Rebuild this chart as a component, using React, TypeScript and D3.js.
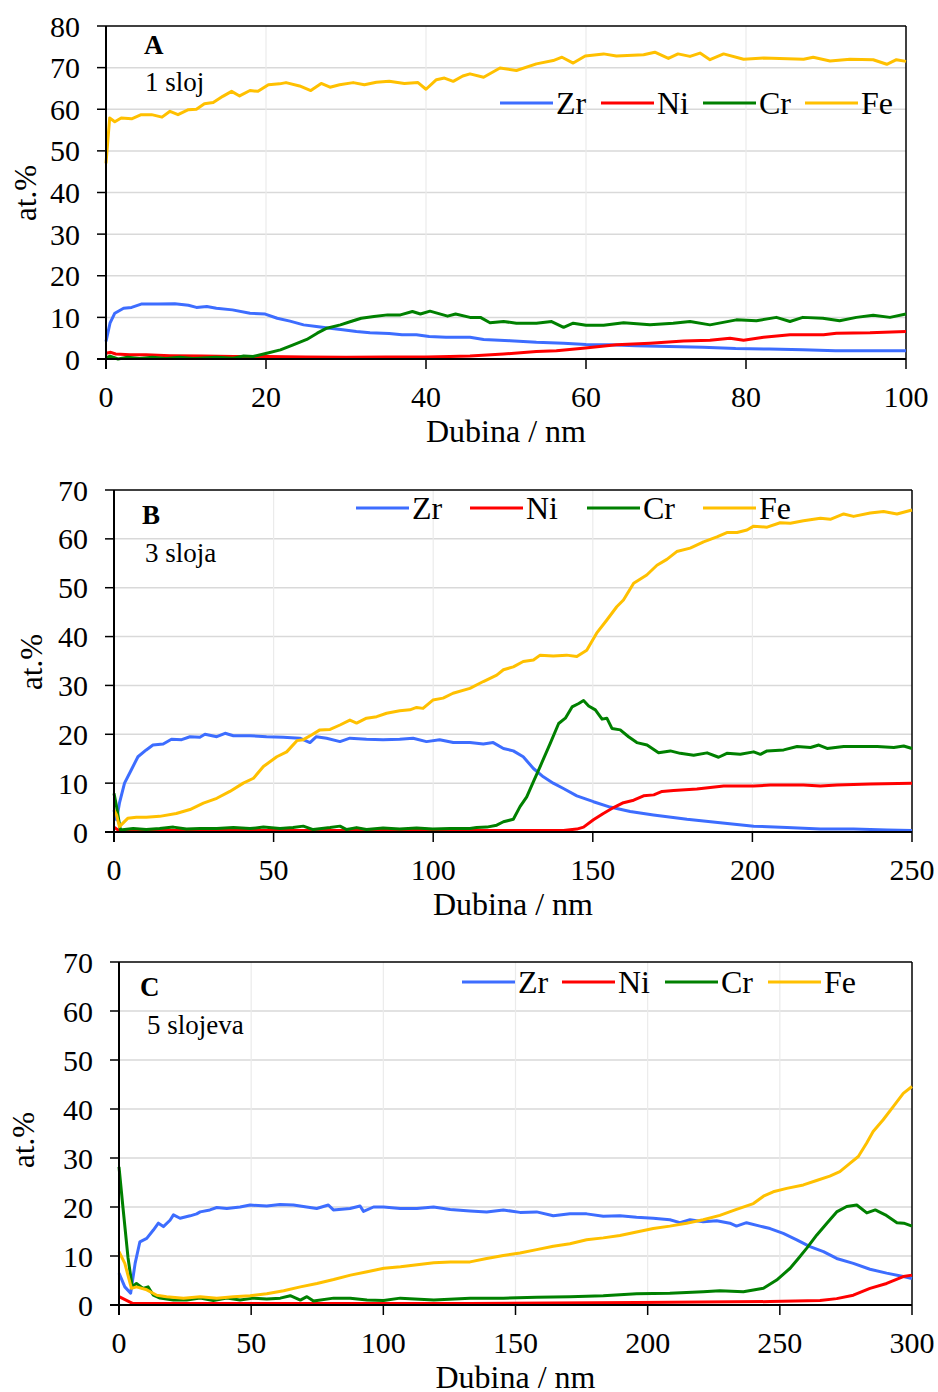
import React from "react";
import * as d3 from "d3";

type Pt = [number, number];

// ---------- Panel A (1 sloj) ----------
const A_Zr: Pt[] = [[0,4.2],[0.5,8.6],[1.1,11.0],[2.2,12.2],[3.2,12.4],[4.4,13.2],[6.5,13.2],[8.6,13.3],[10.3,12.9],[11.3,12.4],[12.6,12.6],[13.8,12.2],[15.8,11.8],[18.0,11.0],[19.9,10.8],[21.4,9.8],[23.0,9.1],[24.7,8.2],[26.3,7.8],[28.0,7.4],[29.6,7.0],[31.3,6.6],[33.0,6.3],[35.4,6.1],[37.0,5.8],[38.8,5.8],[40.4,5.4],[42.5,5.2],[45.5,5.2],[47.2,4.7],[50.5,4.4],[53.8,4.0],[57.2,3.8],[60.0,3.5],[62.9,3.4],[66.2,3.2],[70.4,3.0],[74.6,2.8],[78.7,2.5],[82.9,2.4],[87.1,2.2],[91.2,2.0],[95.4,2.0],[100,2.0]];
const A_Ni: Pt[] = [[0,1.4],[0.6,1.6],[1.2,1.2],[3,1.0],[5,1.0],[8,0.8],[12,0.7],[16,0.6],[20,0.6],[25,0.5],[30,0.4],[35,0.5],[40,0.5],[43,0.6],[45.5,0.7],[49.7,1.2],[53.8,1.8],[56.3,2.0],[59.6,2.6],[63.8,3.4],[68.0,3.8],[72.2,4.3],[75.5,4.5],[78.0,5.0],[79.7,4.5],[82.2,5.2],[85.5,5.8],[89.7,5.8],[91.3,6.2],[95.5,6.3],[100,6.6]];
const A_Cr: Pt[] = [[0,0.2],[0.5,0.7],[1.5,0.0],[2.7,0.4],[4.2,0.1],[5.8,0.4],[7.5,0.1],[9.2,0.4],[10.9,0.1],[13.8,0.4],[15.9,0.2],[17.2,0.7],[18.4,0.6],[20.1,1.4],[21.8,2.2],[23.4,3.4],[25.1,4.7],[26.4,6.2],[27.6,7.4],[29.3,8.2],[30.6,9.0],[31.9,9.8],[33.5,10.2],[35.2,10.6],[36.8,10.6],[38.3,11.4],[39.3,10.8],[40.5,11.5],[42.7,10.3],[43.7,10.8],[45.5,10.0],[46.8,10.0],[48.0,8.7],[49.7,9.0],[51.3,8.6],[53.8,8.6],[55.7,9.0],[57.2,7.6],[58.4,8.6],[60.0,8.1],[62.2,8.1],[64.7,8.7],[68.0,8.2],[70.9,8.6],[73.0,9.0],[75.5,8.2],[78.8,9.4],[81.3,9.2],[83.8,10.0],[85.5,9.0],[87.1,10.0],[89.6,9.8],[91.7,9.2],[93.8,10.0],[95.9,10.5],[98.0,10.0],[100,10.8]];
const A_Fe: Pt[] = [[0,47.0],[0.46,57.9],[1.1,57.0],[1.9,57.9],[3.2,57.7],[4.4,58.7],[5.7,58.7],[7.0,58.1],[8.0,59.5],[9.0,58.7],[10.3,59.9],[11.3,60.0],[12.3,61.3],[13.4,61.6],[14.6,63.1],[15.7,64.3],[16.7,63.2],[18.0,64.5],[19.0,64.3],[20.3,65.9],[21.7,66.1],[22.5,66.4],[24.2,65.6],[25.6,64.5],[26.9,66.2],[28.0,65.3],[29.2,65.9],[30.9,66.4],[32.3,65.9],[33.8,66.5],[35.4,66.7],[37.3,66.2],[39.0,66.4],[40.0,64.8],[41.3,67.1],[42.3,67.5],[43.4,66.7],[44.6,68.0],[45.5,68.5],[47.2,67.7],[49.25,69.9],[51.3,69.3],[53.8,70.9],[55.9,71.7],[57.0,72.5],[58.4,71.1],[59.9,72.8],[62.2,73.3],[63.8,72.8],[67.2,73.1],[68.6,73.7],[70.3,72.2],[71.5,73.3],[73.0,72.7],[74.25,73.5],[75.5,71.9],[77.2,73.3],[79.7,72.0],[82.2,72.3],[87.2,72.0],[88.4,72.5],[90.5,71.6],[93.0,72.0],[95.9,71.9],[97.6,70.8],[98.8,71.9],[100,71.5]];

// ---------- Panel B (3 sloja) ----------
const B_Zr: Pt[] = [[0,4.5],[0.8,2.5],[1.7,5.9],[3.3,10.0],[5.4,12.7],[7.5,15.4],[10.1,16.8],[12.2,17.8],[15.4,18.0],[18.0,19.0],[21.2,18.9],[23.8,19.5],[26.9,19.4],[28.5,20.0],[32.2,19.5],[34.8,20.2],[37.4,19.7],[42.6,19.7],[47.8,19.5],[53.0,19.4],[58.2,19.2],[61.4,18.3],[63.4,19.5],[66.6,19.2],[70.8,18.5],[73.9,19.2],[79.1,19.0],[84.3,18.9],[89.5,19.0],[93.7,19.2],[97.9,18.5],[102,18.9],[106.3,18.3],[111.5,18.3],[115.7,18.0],[118.8,18.3],[122.0,17.1],[125.1,16.6],[128.2,15.4],[131.4,13.0],[134.5,11.3],[137.6,10.0],[140.8,8.9],[145.0,7.4],[150.2,6.2],[155.4,5.1],[161.7,4.2],[169.0,3.5],[179.5,2.6],[189.9,1.9],[200.4,1.2],[210.8,0.9],[221.3,0.6],[231.7,0.6],[242.2,0.4],[250,0.3]];
const B_Ni: Pt[] = [[0,1.0],[1.5,0.3],[10,0.3],[30,0.3],[60,0.3],[90,0.3],[120,0.3],[140.8,0.3],[145.0,0.6],[147.1,1.0],[150.2,2.5],[153.3,3.8],[156.5,5.0],[159.6,6.0],[162.8,6.5],[165.9,7.4],[169.1,7.6],[171.7,8.3],[175.3,8.5],[182.6,8.8],[186.8,9.1],[191.0,9.4],[200.4,9.4],[205.6,9.6],[216.0,9.6],[221.3,9.4],[226.5,9.6],[236.9,9.8],[250,10.0]];
const B_Cr: Pt[] = [[0,7.9],[0.8,5.2],[2.0,0.4],[6.0,0.7],[10.1,0.5],[14.3,0.7],[18.6,1.0],[22.7,0.6],[26.9,0.7],[32.2,0.7],[37.4,0.9],[42.6,0.7],[46.8,1.0],[52.0,0.7],[56.1,0.9],[59.3,1.2],[62.4,0.5],[67.7,0.9],[70.8,1.2],[72.9,0.5],[76.0,0.9],[79.1,0.5],[84.3,0.8],[89.5,0.6],[94.8,0.8],[99.9,0.6],[105.2,0.7],[111.5,0.7],[113.6,0.9],[116.8,1.0],[119.9,1.4],[122.0,2.1],[125.1,2.6],[127.2,5.2],[129.3,7.2],[131.4,10.3],[133.5,13.4],[136.7,18.2],[139.3,22.2],[141.4,23.3],[143.5,25.6],[145.6,26.3],[147.1,26.9],[148.7,25.8],[150.8,25.0],[152.9,23.1],[154.4,23.3],[156.0,21.2],[158.6,20.9],[161.2,19.5],[163.8,18.3],[167.0,17.8],[170.6,16.2],[174.3,16.6],[177.4,16.1],[181.6,15.7],[185.8,16.2],[189.4,15.3],[192.0,16.1],[196.2,15.9],[200.4,16.4],[202.5,15.9],[204.6,16.6],[209.8,16.8],[214.0,17.5],[218.2,17.3],[220.8,17.8],[223.4,17.1],[228.6,17.5],[234.9,17.5],[239.1,17.5],[244.3,17.3],[247.4,17.6],[250,17.1]];
const B_Fe: Pt[] = [[0,4.5],[0.8,3.5],[1.7,1.1],[4.3,2.8],[7.0,3.0],[10.1,3.0],[14.3,3.2],[19.5,3.8],[23.8,4.6],[28.0,5.9],[32.2,6.9],[36.3,8.3],[40.5,10.0],[43.7,11.0],[46.8,13.4],[51.0,15.4],[54.1,16.4],[57.3,18.7],[59.3,18.9],[62.0,19.9],[64.5,20.9],[67.7,21.0],[70.8,21.9],[73.9,22.9],[76.0,22.3],[79.1,23.3],[82.3,23.6],[85.4,24.3],[89.5,24.8],[92.7,25.0],[94.8,25.5],[96.8,25.3],[99.9,27.0],[103.1,27.4],[106.2,28.4],[111.5,29.4],[115.7,30.8],[119.9,32.1],[122.0,33.2],[125.1,33.8],[128.2,34.9],[131.4,35.2],[133.5,36.2],[137.6,36.0],[141.8,36.2],[145.0,35.9],[148.1,37.2],[151.2,40.7],[154.4,43.4],[157.5,46.1],[159.6,47.5],[162.8,50.9],[166.9,52.6],[170.1,54.6],[173.2,55.8],[176.3,57.4],[180.5,58.1],[184.7,59.4],[188.9,60.4],[192.0,61.3],[195.2,61.3],[198.3,61.8],[200.4,62.6],[204.6,62.4],[208.7,63.3],[211.9,63.2],[216.0,63.7],[221.3,64.2],[224.4,64.0],[228.6,65.1],[231.7,64.6],[236.9,65.3],[241.1,65.6],[245.3,65.1],[250,65.9]];

// ---------- Panel C (5 slojeva) ----------
const C_Zr: Pt[] = [[0,6.5],[2.2,3.7],[4.4,2.4],[6.1,8.5],[7.9,12.9],[10.5,13.6],[13.0,15.3],[14.9,16.7],[16.8,16.0],[19.3,17.3],[20.6,18.4],[23.1,17.7],[26.9,18.2],[29.4,18.6],[30.7,19.0],[34.4,19.4],[37.0,19.9],[40.8,19.7],[45.8,20.0],[49.6,20.4],[55.9,20.2],[60.9,20.5],[66.0,20.4],[71.0,20.0],[74.8,19.7],[79.2,20.4],[81.1,19.4],[87.4,19.7],[91.2,20.2],[92.5,19.1],[96.3,20.0],[100.1,20.0],[106.4,19.7],[112.7,19.7],[119.0,20.0],[125.3,19.5],[132.8,19.2],[139.1,19.0],[145.4,19.4],[151.7,18.9],[158.0,19.0],[164.3,18.2],[170.6,18.6],[176.9,18.6],[183.2,18.1],[189.5,18.2],[195.8,17.9],[202.1,17.7],[208.4,17.4],[212.2,16.8],[216.0,17.4],[221.0,17.0],[226.1,17.2],[231.1,16.7],[233.6,16.1],[237.4,16.8],[242.5,16.1],[246.3,15.6],[251.3,14.6],[256.4,13.3],[261.4,11.9],[266.5,10.9],[271.5,9.5],[277.8,8.5],[284.1,7.3],[290.4,6.5],[296.7,5.8],[300,5.4]];
const C_Ni: Pt[] = [[0,1.7],[5.3,0.3],[30,0.3],[80,0.3],[132.8,0.3],[195.8,0.5],[246.3,0.7],[265.2,0.9],[271.5,1.3],[277.8,2.0],[284.1,3.4],[290.4,4.4],[296.7,5.8],[300,6.1]];
const C_Cr: Pt[] = [[0,28.2],[1.5,19.9],[3.4,9.7],[5.0,3.7],[6.6,4.4],[9.1,3.4],[11.0,3.7],[13.0,2.0],[15.5,1.4],[20.6,1.0],[25.6,1.0],[30.7,1.4],[35.7,0.9],[40.8,1.4],[45.8,1.0],[50.9,1.4],[55.9,1.2],[61.0,1.4],[64.8,1.9],[68.6,1.0],[71.1,1.7],[73.6,0.8],[81.2,1.4],[87.5,1.4],[93.8,1.0],[100.1,0.9],[106.4,1.4],[119.1,1.0],[132.8,1.4],[145.4,1.4],[158.0,1.6],[170.6,1.7],[183.2,1.9],[195.8,2.3],[208.4,2.4],[221.0,2.7],[227.3,2.9],[236.2,2.7],[243.8,3.4],[248.8,5.1],[253.9,7.5],[257.0,9.5],[260.2,11.6],[264.0,14.3],[267.8,16.7],[271.5,19.0],[275.3,20.1],[279.1,20.4],[282.9,18.8],[286.1,19.4],[289.9,18.4],[294.3,16.8],[296.9,16.7],[300,16.1]];
const C_Fe: Pt[] = [[0,10.9],[2.2,8.5],[4.7,3.4],[6.6,3.7],[10.5,3.1],[14.3,2.0],[18.0,1.7],[24.4,1.4],[30.7,1.7],[37.0,1.4],[43.3,1.7],[49.6,1.9],[55.9,2.3],[62.3,2.9],[68.6,3.7],[74.9,4.4],[81.2,5.2],[87.6,6.1],[93.9,6.8],[100.2,7.5],[106.5,7.8],[112.8,8.2],[119.1,8.6],[125.4,8.8],[132.8,8.8],[139.1,9.5],[145.4,10.1],[151.7,10.6],[158.0,11.3],[164.3,12.0],[170.6,12.5],[176.9,13.3],[183.2,13.7],[189.5,14.2],[195.8,14.9],[202.1,15.6],[208.4,16.1],[214.7,16.7],[221.0,17.4],[227.3,18.3],[233.6,19.5],[240.0,20.7],[243.8,22.2],[247.5,23.1],[252.6,23.8],[258.9,24.5],[263.9,25.4],[268.9,26.3],[272.7,27.2],[276.5,28.9],[279.7,30.3],[282.8,33.0],[285.3,35.4],[289.1,37.8],[292.9,40.5],[296.7,43.2],[300,44.6]];

const seriesNames = ["Zr", "Ni", "Cr", "Fe"];
const seriesColors = ["#3d6dff", "#ff0000", "#008000", "#ffc000"];

const A_xTicks = [0, 20, 40, 60, 80, 100];
const A_yTicks = [0, 10, 20, 30, 40, 50, 60, 70, 80];
const B_xTicks = [0, 50, 100, 150, 200, 250];
const B_yTicks = [0, 10, 20, 30, 40, 50, 60, 70];
const C_xTicks = [0, 50, 100, 150, 200, 250, 300];
const C_yTicks = [0, 10, 20, 30, 40, 50, 60, 70];

const FONT = "'Liberation Serif', 'Times New Roman', serif";

interface PanelProps {
  left: number; right: number; top: number; bottom: number;
  xMax: number; yMax: number;
  xTicks: number[]; yTicks: number[];
  data: Pt[][];
  letter: string; sub: string;
  letterPos: [number, number]; subPos: [number, number];
  legendY: number; legendX: number[];
  yTitleX: number; yTitleY: number;
}

function Panel(p: PanelProps) {
  const x = d3.scaleLinear().domain([0, p.xMax]).range([p.left, p.right]);
  const y = d3.scaleLinear().domain([0, p.yMax]).range([p.bottom, p.top]);
  const line = d3.line<Pt>().x(d => x(d[0])).y(d => y(d[1])).curve(d3.curveLinear);
  const fs = 30;
  return (
    <g>
      {p.yTicks.filter(t => t > 0 && t < p.yMax).map(t => (
        <line key={"hg" + t} x1={p.left} x2={p.right} y1={y(t)} y2={y(t)} stroke="#d9d9d9" strokeWidth={1.5} />
      ))}
      {p.xTicks.filter(t => t > 0 && t < p.xMax).map(t => (
        <line key={"vg" + t} x1={x(t)} x2={x(t)} y1={p.top} y2={p.bottom} stroke="#ebebeb" strokeWidth={1.2} />
      ))}
      <line x1={p.left} x2={p.right} y1={p.top} y2={p.top} stroke="#000" strokeWidth={1.5} />
      <line x1={p.right} x2={p.right} y1={p.top} y2={p.bottom} stroke="#000" strokeWidth={1.5} />
      {p.data.map((d, i) => (
        <path key={"s" + i} d={line(d) || ""} fill="none" stroke={seriesColors[i]} strokeWidth={3} strokeLinejoin="round" />
      ))}
      <line x1={p.left} x2={p.left} y1={p.top} y2={p.bottom + 10} stroke="#000" strokeWidth={2} />
      <line x1={p.left - 9} x2={p.right} y1={p.bottom} y2={p.bottom} stroke="#000" strokeWidth={2} />
      {p.yTicks.map(t => (
        <g key={"yt" + t}>
          <line x1={p.left - 9} x2={p.left} y1={y(t)} y2={y(t)} stroke="#000" strokeWidth={1.5} />
          <text x={p.left - 26} y={y(t)} dy="0.35em" textAnchor="end" fontFamily={FONT} fontSize={fs} fill="#000">{t}</text>
        </g>
      ))}
      {p.xTicks.map(t => (
        <g key={"xt" + t}>
          <line x1={x(t)} x2={x(t)} y1={p.bottom} y2={p.bottom + 10} stroke="#000" strokeWidth={1.5} />
          <text x={x(t)} y={p.bottom + 37} dy="0.35em" textAnchor="middle" fontFamily={FONT} fontSize={fs} fill="#000">{t}</text>
        </g>
      ))}
      <text x={(p.left + p.right) / 2} y={p.bottom + 83} textAnchor="middle" fontFamily={FONT} fontSize={32} fill="#000">Dubina / nm</text>
      <text transform={`translate(${p.yTitleX},${p.yTitleY}) rotate(-90)`} dy="0.35em" textAnchor="middle" fontFamily={FONT} fontSize={31} fill="#000">at.%</text>
      <text x={p.letterPos[0]} y={p.letterPos[1]} dy="0.35em" fontFamily={FONT} fontSize={27} fontWeight="bold" fill="#000">{p.letter}</text>
      <text x={p.subPos[0]} y={p.subPos[1]} dy="0.35em" fontFamily={FONT} fontSize={27} fill="#000">{p.sub}</text>
      {seriesNames.map((n, i) => (
        <g key={"lg" + n}>
          <line x1={p.legendX[i]} x2={p.legendX[i] + 53} y1={p.legendY} y2={p.legendY} stroke={seriesColors[i]} strokeWidth={3} />
          <text x={p.legendX[i] + 56} y={p.legendY} dy="0.35em" fontFamily={FONT} fontSize={32} fill="#000">{n}</text>
        </g>
      ))}
    </g>
  );
}

export default function App() {
  return (
    <svg width={938} height={1392} style={{ display: "block", position: "fixed", left: 0, top: 0 }} viewBox="0 0 938 1392">
      <rect width={938} height={1392} fill="#fff" />
      <Panel left={106} right={906} top={26} bottom={359} xMax={100} yMax={80}
        xTicks={A_xTicks} yTicks={A_yTicks} data={[A_Zr, A_Ni, A_Cr, A_Fe]}
        letter="A" sub="1 sloj" letterPos={[144, 45]} subPos={[145, 82]}
        legendY={103} legendX={[500, 601, 703, 805]} yTitleX={25} yTitleY={193} />
      <Panel left={114} right={912} top={490} bottom={832} xMax={250} yMax={70}
        xTicks={B_xTicks} yTicks={B_yTicks} data={[B_Zr, B_Ni, B_Cr, B_Fe]}
        letter="B" sub="3 sloja" letterPos={[142, 515]} subPos={[145, 553]}
        legendY={508} legendX={[356, 470, 587, 703]} yTitleX={31} yTitleY={662} />
      <Panel left={119} right={912} top={962} bottom={1305} xMax={300} yMax={70}
        xTicks={C_xTicks} yTicks={C_yTicks} data={[C_Zr, C_Ni, C_Cr, C_Fe]}
        letter="C" sub="5 slojeva" letterPos={[140, 987]} subPos={[147, 1025]}
        legendY={982} legendX={[462, 562, 665, 768]} yTitleX={23} yTitleY={1140} />
    </svg>
  );
}
